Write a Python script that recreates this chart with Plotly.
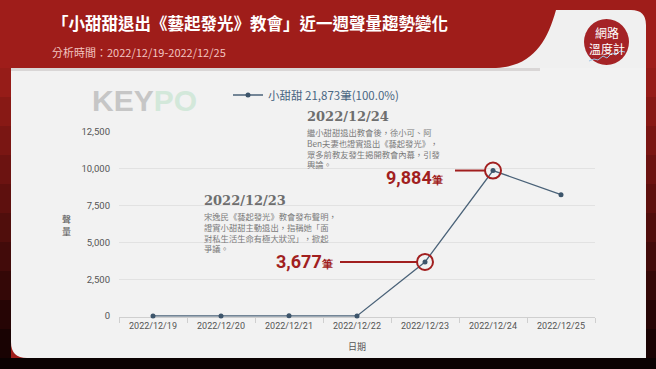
import plotly.graph_objects as go

dates = ["2022/12/19", "2022/12/20", "2022/12/21", "2022/12/22", "2022/12/23", "2022/12/24", "2022/12/25"]
values = [12, 8, 30, 15, 3677, 9884, 8247]
series_name = "小甜甜 21,873筆(100.0%)"
y_ticks = [0, 2500, 5000, 7500, 10000, 12500]
y_tick_text = ["0", "2,500", "5,000", "7,500", "10,000", "12,500"]

title = "「小甜甜退出《藝起發光》教會」近一週聲量趨勢變化"
subtitle = "分析時間：2022/12/19-2022/12/25"
note1_date = "2022/12/23"
note1_text = ["宋逸民《藝起發光》教會發布聲明，", "證實小甜甜主動退出，指稱她「面", "對私生活生命有極大狀況」，掀起", "爭議。"]
note2_date = "2022/12/24"
note2_text = ["繼小甜甜退出教會後，徐小可、阿", "Ben夫妻也證實退出《藝起發光》，", "眾多前教友發生揭開教會內幕，引發", "輿論。"]

W, H = 656, 369
L, R, T, B = 119, 595, 132, 317
CJK = "Noto Sans CJK TC"
RED = "#a11f1f"
LINE = "#4a6278"


def px(x):
    return (x - L) / (R - L)


def py(y):
    return (B - y) / (B - T)


def path(pts):
    s = ""
    for cmd, pt in pts:
        if cmd == "Z":
            s += " Z"
        else:
            s += f" {cmd} " + " ".join(f"{px(a):.5f},{py(b):.5f}" for a, b in pt)
    return s.strip()


fig = go.Figure()
fig.add_trace(go.Scatter(
    x=dates, y=values, mode="lines+markers", name=series_name,
    line=dict(color=LINE, width=1.3),
    marker=dict(color="#3d556b", size=5), cliponaxis=False,
))

shapes = []
steps = 10
for i in range(steps):
    y0 = 68 + (358 - 68) * i / steps
    y1 = 68 + (358 - 68) * (i + 1) / steps
    f = i / (steps - 1)
    r = int(150 * (1 - f) + 25 * f)
    g = int(28 * (1 - f) + 3 * f)
    b = int(24 * (1 - f) + 3 * f)
    col = f"rgb({r},{g},{b})"
    shapes.append(dict(type="rect", xref="paper", yref="paper", x0=px(0), x1=px(11), y0=py(y1), y1=py(y0),
                       fillcolor=col, line=dict(width=0), layer="below"))
    shapes.append(dict(type="rect", xref="paper", yref="paper", x0=px(646), x1=px(656), y0=py(y1), y1=py(y0),
                       fillcolor=col, line=dict(width=0), layer="below"))
shapes.append(dict(type="rect", xref="paper", yref="paper", x0=px(0), x1=px(656), y0=py(369), y1=py(358),
                   fillcolor="#0b0202", line=dict(width=0), layer="below"))
shapes.append(dict(type="path", xref="paper", yref="paper", layer="below",
                   path=path([("M", [(11, 68)]), ("L", [(646, 68)]), ("L", [(646, 358)]), ("L", [(27, 358)]),
                              ("Q", [(11, 358), (11, 342)]), ("Z", None)]),
                   fillcolor="#f2f2f2", line=dict(width=0)))
shapes.append(dict(type="rect", xref="paper", yref="paper", x0=px(11), x1=px(540), y0=py(71), y1=py(68),
                   fillcolor="#d9d6d6", line=dict(width=0), layer="below"))
shapes.append(dict(type="path", xref="paper", yref="paper", layer="below",
                   path=path([("M", [(556, 10)]), ("C", [(547, 42), (533, 66), (496, 68)]), ("L", [(646, 68)]),
                              ("L", [(646, 25)]), ("Q", [(646, 10), (631, 10)]), ("Z", None)]),
                   fillcolor="#f0f0f0", line=dict(width=0)))
shapes.append(dict(type="circle", xref="paper", yref="paper", layer="below",
                   x0=px(584), x1=px(629), y0=py(65), y1=py(19),
                   fillcolor="#a52326", line=dict(width=0)))
shapes.append(dict(type="path", xref="paper", yref="paper", layer="below",
                   path=path([("M", [(589, 61)]), ("L", [(594, 59)]), ("L", [(598, 60)]), ("L", [(603, 56)]),
                              ("L", [(607, 58)]), ("L", [(612, 53)]), ("L", [(616, 55)]), ("L", [(620, 51)]),
                              ("L", [(625, 52)])]),
                   line=dict(color="#9cc3e6", width=1)))

for idx, off0, off1 in [(4, -85, -8), (5, -38, -8)]:
    shapes.append(dict(type="line", xref="x", yref="y", xsizemode="pixel", ysizemode="pixel",
                       xanchor=dates[idx], yanchor=values[idx], x0=off0, x1=off1, y0=0, y1=0,
                       line=dict(color=RED, width=2)))
    shapes.append(dict(type="circle", xref="x", yref="y", xsizemode="pixel", ysizemode="pixel",
                       xanchor=dates[idx], yanchor=values[idx], x0=-8, x1=8, y0=-8, y1=8,
                       line=dict(color=RED, width=2), fillcolor="rgba(0,0,0,0)"))

ann = []
ann.append(dict(xref="paper", yref="paper", x=px(50), y=py(23), xanchor="left", yanchor="middle",
                text=f"<b>{title}</b>", showarrow=False, font=dict(family=CJK, size=16.5, color="white")))
ann.append(dict(xref="paper", yref="paper", x=px(50), y=py(52), xanchor="left", yanchor="middle",
                text=subtitle, showarrow=False, font=dict(family=CJK, size=11, color="#f2c4c0")))
ann.append(dict(xref="paper", yref="paper", x=px(607), y=py(40), xanchor="center", yanchor="middle",
                text="網路<br>溫度計", showarrow=False, font=dict(family=CJK, size=12, color="white")))
ann.append(dict(xref="paper", yref="paper", x=px(90), y=py(100), xanchor="left", yanchor="middle",
                text="<b><span style='color:#c6c6c6'>KEY</span><span style='color:#d3e8da'>PO</span></b>",
                showarrow=False, font=dict(family="Liberation Sans", size=30)))
for d, lines, x0, yd, yt in [(note1_date, note1_text, 202, 200, 232), (note2_date, note2_text, 305, 117, 148)]:
    ann.append(dict(xref="paper", yref="paper", x=px(x0), y=py(yd), xanchor="left", yanchor="middle",
                    text=f"<b>{d}</b>", showarrow=False, font=dict(family="DejaVu Serif", size=13, color="#6e6e6e")))
    ann.append(dict(xref="paper", yref="paper", x=px(x0), y=py(yt), xanchor="left", yanchor="middle",
                    text="<br>".join(lines), showarrow=False, align="left",
                    font=dict(family=CJK, size=8.3, color="#7a7a7a")))
for idx, xs, ys in [(4, -90, 0), (5, -48, -7)]:
    v = f"{values[idx]:,}"
    ann.append(dict(xref="x", yref="y", x=dates[idx], y=values[idx], xshift=xs, yshift=ys,
                    xanchor="right", yanchor="middle", showarrow=False,
                    text=f"<b>{v}</b><b><span style='font-size:11px'>筆</span></b>",
                    font=dict(family="Roboto", size=18, color=RED)))
ann.append(dict(xref="paper", yref="paper", x=px(66), y=py(225), xanchor="center", yanchor="middle",
                text="聲<br>量", showarrow=False, font=dict(family=CJK, size=9, color="#555")))
ann.append(dict(xref="paper", yref="paper", x=px(357), y=py(346), xanchor="center", yanchor="middle",
                text="日期", showarrow=False, font=dict(family=CJK, size=9, color="#555")))

fig.update_layout(
    width=W, height=H,
    margin=dict(l=L, r=W - R, t=T, b=H - B, pad=0),
    paper_bgcolor="#9f1d1a", plot_bgcolor="rgba(0,0,0,0)",
    shapes=shapes, annotations=ann,
    showlegend=True,
    legend=dict(x=px(228), y=py(95), xanchor="left", yanchor="middle", orientation="h",
                bgcolor="rgba(0,0,0,0)", font=dict(family=CJK, size=11.5, color="#4a6682"),
                itemwidth=30),
    xaxis=dict(type="category", range=[-0.5, 6.5], showgrid=False, showline=True, linecolor="#cfcfcf",
               ticks="outside", tickson="boundaries", ticklen=5, tickcolor="#cfcfcf", layer="below traces",
               tickfont=dict(family="Roboto", size=9, color="#555"), fixedrange=True),
    yaxis=dict(range=[-60, 12500], tickvals=y_ticks, ticktext=y_tick_text, showgrid=True, gridcolor="#e2e2e2",
               zeroline=False, showline=False, ticks="", ticklabelstandoff=8, layer="below traces",
               tickfont=dict(family="Roboto", size=9.5, color="#555"), fixedrange=True),
)

fig.write_html("out.html")
